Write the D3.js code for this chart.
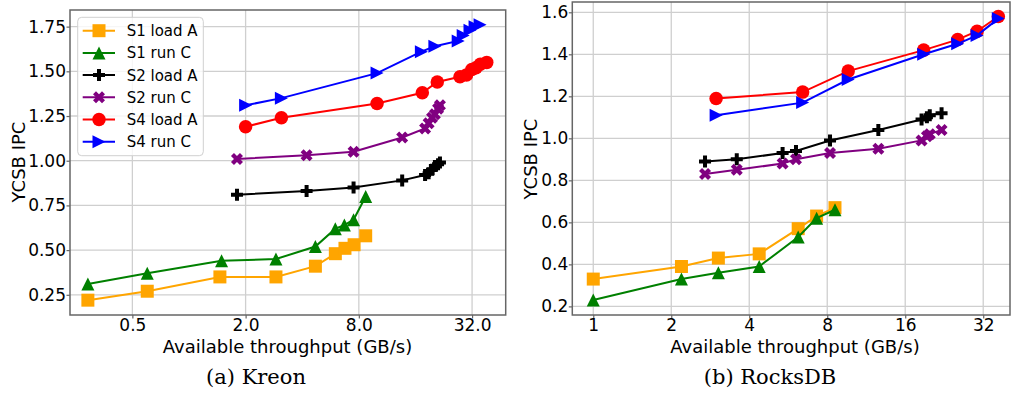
<!DOCTYPE html>
<html>
<head>
<meta charset="utf-8">
<script src="https://cdn.jsdelivr.net/npm/d3@7"></script>
<style>
  body { margin: 0; background: #fff; }
  svg { display: block; }
</style>
</head>
<body>
<svg width="1013" height="394"></svg>
<script>
// series names, in legend order
const seriesNames = ["S1 load A", "S1 run C", "S2 load A", "S2 run C", "S4 load A", "S4 run C"];
const seriesColors = ["#ffa500", "#008000", "#000000", "#800080", "#ff0000", "#0000ff"];
const seriesMarkers = ["square", "triUp", "plus", "cross", "circle", "triRight"];

// (a) Kreon - throughput (GB/s) and IPC
const kS1LoadAX = [0.29, 0.6, 1.46, 2.9, 4.7, 6.0, 6.75, 7.55, 8.7];
const kS1LoadAY = [0.22, 0.27, 0.35, 0.35, 0.41, 0.48, 0.51, 0.53, 0.58];
const kS1RunCX = [0.29, 0.6, 1.49, 2.9, 4.7, 6.0, 6.7, 7.5, 8.7];
const kS1RunCY = [0.31, 0.37, 0.44, 0.45, 0.52, 0.62, 0.64, 0.67, 0.80];
const kS2X = [1.8, 4.22, 7.5, 13.6, 18.0, 18.8, 19.6, 20.3, 21.1, 21.6];
const kS2LoadAY = [0.81, 0.83, 0.85, 0.89, 0.92, 0.93, 0.95, 0.97, 0.98, 0.99];
const kS2RunCY = [1.01, 1.03, 1.05, 1.13, 1.18, 1.21, 1.24, 1.26, 1.29, 1.31];
const kS4LoadAX = [2.0, 3.1, 10.0, 17.4, 20.9, 27.6, 29.9, 31.9, 33.6, 35.4, 38.3];
const kS4LoadAY = [1.19, 1.24, 1.32, 1.38, 1.44, 1.47, 1.48, 1.51, 1.52, 1.54, 1.55];
const kS4RunCX = [2.0, 3.1, 10.0, 17.2, 20.3, 27.0, 28.7, 31.2, 33.2, 35.3];
const kS4RunCY = [1.31, 1.35, 1.49, 1.61, 1.64, 1.67, 1.70, 1.73, 1.75, 1.76];

// (b) RocksDB
const rS1X = [1.0, 2.19, 3.04, 4.37, 6.18, 7.28, 8.57];
const rS1LoadAY = [0.33, 0.39, 0.43, 0.45, 0.57, 0.63, 0.67];
const rS1RunCY = [0.23, 0.33, 0.36, 0.39, 0.53, 0.62, 0.66];
const rS2X = [2.7, 3.58, 5.38, 6.06, 8.2, 12.6, 18.5, 19.4, 19.9, 22.1];
const rS2LoadAY = [0.89, 0.90, 0.93, 0.94, 0.99, 1.04, 1.09, 1.10, 1.11, 1.12];
const rS2RunCY = [0.83, 0.85, 0.88, 0.90, 0.93, 0.95, 0.99, 1.01, 1.02, 1.04];
const rS4X = [2.98, 6.43, 9.64, 18.85, 25.5, 30.3, 36.6];
const rS4LoadAY = [1.19, 1.22, 1.32, 1.42, 1.47, 1.51, 1.58];
const rS4RunCY = [1.11, 1.17, 1.28, 1.40, 1.45, 1.49, 1.57];

// tick values
const kXTicks = [0.5, 2, 8, 32];
const kYTicks = [0.25, 0.5, 0.75, 1.0, 1.25, 1.5, 1.75];
const rXTicks = [1, 2, 4, 8, 16, 32];
const rYTicks = [0.2, 0.4, 0.6, 0.8, 1.0, 1.2, 1.4, 1.6];

const svg = d3.select("svg");
const zip = (xs, ys) => xs.map((x, i) => ({x: x, y: ys[i]}));

// marker paths, s = full marker size
function markerPath(type, s) {
  const h = s / 2;
  if (type === "square") return `M${-h},${-h}H${h}V${h}H${-h}Z`;
  if (type === "circle") return d3.symbol(d3.symbolCircle, Math.PI * h * h)();
  if (type === "triUp") return `M0,${-h}L${h},${h}L${-h},${h}Z`;
  if (type === "triRight") return `M${h},0L${-h},${h}L${-h},${-h}Z`;
  if (type === "plus") {
    const a = s / 6, b = s / 2;
    return `M${-a},${-b}H${a}V${-a}H${b}V${a}H${a}V${b}H${-a}V${a}H${-b}V${-a}H${-a}Z`;
  }
  // filled x
  const pts = [[-1, -2], [0, -1], [1, -2], [2, -1], [1, 0], [2, 1], [1, 2], [0, 1], [-1, 2], [-2, 1], [-1, 0], [-2, -1]];
  return "M" + pts.map(p => [p[0] * s / 4, p[1] * s / 4].join(",")).join("L") + "Z";
}
const markerSizes = {square: 13, circle: 13.5, triUp: 13, triRight: 13, plus: 12, cross: 12};

function drawPanel(p) {
  const x = d3.scaleLog().base(2).domain(p.xDomain).range([p.left, p.right]);
  const y = d3.scaleLinear().domain(p.yDomain).range([p.bottom, p.top]);
  const g = svg.append("g");

  // grid
  g.append("g").selectAll("line").data(p.xTicks).enter().append("line")
    .attr("x1", d => x(d)).attr("x2", d => x(d))
    .attr("y1", p.top).attr("y2", p.bottom)
    .attr("stroke", "#cfcfcf").attr("stroke-width", 1.3);
  g.append("g").selectAll("line").data(p.yTicks).enter().append("line")
    .attr("y1", d => y(d)).attr("y2", d => y(d))
    .attr("x1", p.left).attr("x2", p.right)
    .attr("stroke", "#cfcfcf").attr("stroke-width", 1.3);

  // axes
  const xAxis = g.append("g").attr("transform", `translate(0,${p.bottom})`)
    .call(d3.axisBottom(x).tickValues(p.xTicks).tickFormat(p.xFormat).tickSize(3.5).tickPadding(0.8));
  const yAxis = g.append("g").attr("transform", `translate(${p.left},0)`)
    .call(d3.axisLeft(y).tickValues(p.yTicks).tickFormat(p.yFormat).tickSize(3.5).tickPadding(0.5));
  [xAxis, yAxis].forEach(a => {
    a.select(".domain").remove();
    a.selectAll("line").attr("stroke", "#666").attr("stroke-width", 1.2);
    a.selectAll("text").attr("fill", "#000")
      .style("font", "17px 'DejaVu Sans', sans-serif");
  });

  // frame
  g.append("rect")
    .attr("x", p.left).attr("y", p.top)
    .attr("width", p.right - p.left).attr("height", p.bottom - p.top)
    .attr("fill", "none").attr("stroke", "#666").attr("stroke-width", 1.5);

  // series
  const line = d3.line().x(d => x(d.x)).y(d => y(d.y));
  p.series.forEach((pts, i) => {
    g.append("path").datum(pts)
      .attr("fill", "none").attr("stroke", seriesColors[i]).attr("stroke-width", 2)
      .attr("d", line);
    g.append("g").selectAll("path").data(pts).enter().append("path")
      .attr("transform", d => `translate(${x(d.x)},${y(d.y)})`)
      .attr("d", markerPath(seriesMarkers[i], markerSizes[seriesMarkers[i]]))
      .attr("fill", seriesColors[i]);
  });

  // axis labels
  g.append("text")
    .attr("x", p.xLabelX).attr("y", 352.5)
    .attr("text-anchor", "middle")
    .style("font", "18px 'DejaVu Sans', sans-serif")
    .text("Available throughput (GB/s)");
  g.append("text")
    .attr("transform", `translate(${p.yLabelX},${p.yLabelY}) rotate(-90)`)
    .attr("text-anchor", "middle")
    .style("font", "18px 'DejaVu Sans', sans-serif")
    .text("YCSB IPC");

  // caption
  g.append("text")
    .attr("x", p.captionX).attr("y", 384)
    .attr("text-anchor", "middle")
    .style("font", "21px 'DejaVu Serif', serif")
    .text(p.caption);
}

drawPanel({
  left: 70, right: 505.7, top: 10, bottom: 315,
  xDomain: [0.233, 48.3], yDomain: [0.137, 1.843],
  xTicks: kXTicks, yTicks: kYTicks,
  xFormat: d3.format(".1f"), yFormat: d3.format(".2f"),
  series: [zip(kS1LoadAX, kS1LoadAY), zip(kS1RunCX, kS1RunCY), zip(kS2X, kS2LoadAY),
           zip(kS2X, kS2RunCY), zip(kS4LoadAX, kS4LoadAY), zip(kS4RunCX, kS4RunCY)],
  xLabelX: 287.5, yLabelX: 25, yLabelY: 162,
  captionX: 256, caption: "(a) Kreon"
});

drawPanel({
  left: 572.3, right: 1010, top: 2, bottom: 315,
  xDomain: [0.83, 40.6], yDomain: [0.159, 1.649],
  xTicks: rXTicks, yTicks: rYTicks,
  xFormat: d3.format("d"), yFormat: d3.format(".1f"),
  series: [zip(rS1X, rS1LoadAY), zip(rS1X, rS1RunCY), zip(rS2X, rS2LoadAY),
           zip(rS2X, rS2RunCY), zip(rS4X, rS4LoadAY), zip(rS4X, rS4RunCY)],
  xLabelX: 795, yLabelX: 537, yLabelY: 159,
  captionX: 770, caption: "(b) RocksDB"
});

// legend (Kreon panel)
const legend = svg.append("g");
legend.append("rect")
  .attr("x", 77.7).attr("y", 17.3).attr("width", 125.6).attr("height", 138.4)
  .attr("rx", 4).attr("fill", "#fff").attr("fill-opacity", 0.8)
  .attr("stroke", "#d0d0d0").attr("stroke-width", 1);
seriesNames.forEach((name, i) => {
  const ly = 30.7 + i * 22.2;
  legend.append("line")
    .attr("x1", 82.7).attr("x2", 115).attr("y1", ly).attr("y2", ly)
    .attr("stroke", seriesColors[i]).attr("stroke-width", 2);
  legend.append("path")
    .attr("transform", `translate(99,${ly})`)
    .attr("d", markerPath(seriesMarkers[i], markerSizes[seriesMarkers[i]]))
    .attr("fill", seriesColors[i]);
  legend.append("text")
    .attr("x", 126.7).attr("y", ly + 5.5)
    .style("font", "15px 'DejaVu Sans', sans-serif")
    .text(name);
});
</script>
</body>
</html>
